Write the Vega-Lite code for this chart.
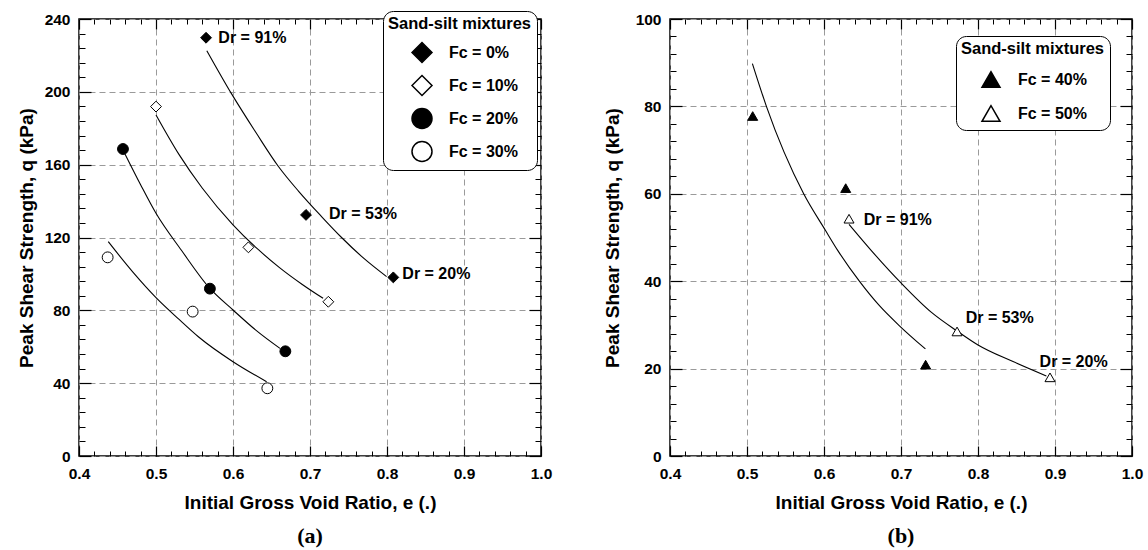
{
  "$schema": "https://vega.github.io/schema/vega-lite/v6.json",
  "background": "white",
  "padding": {"left": 16, "top": 9, "right": 5, "bottom": 5},
  "spacing": 49,
  "resolve": {"scale": {"fill": "independent", "shape": "independent"}, "legend": {"fill": "independent", "shape": "independent"}},
  "config": {
    "font": "Liberation Sans",
    "view": {"stroke": "black", "strokeWidth": 1.5},
    "axis": {
      "labelFont": "Liberation Sans", "labelFontWeight": "bold", "labelFontSize": 15.5, "labelColor": "black",
      "titleFont": "Liberation Sans", "titleFontWeight": "bold", "titleFontSize": 19, "titleColor": "black",
      "domain": false, "tickColor": "black", "tickWidth": 1.2,
      "gridColor": "#9a9a9a", "gridDash": [6, 4], "gridWidth": 1,
      "labelFlush": false, "labelOverlap": false
    },
    "legend": {
      "titleFont": "Liberation Sans", "titleFontWeight": "bold", "titleFontSize": 16.5, "titleColor": "black",
      "labelFont": "Liberation Sans", "labelFontWeight": "bold", "labelFontSize": 16, "labelColor": "black",
      "fillColor": "white", "strokeColor": "black", "cornerRadius": 10, "padding": 5
    }
  },
  "datasets": {
    "ptsA": [
      {"e": 0.565, "q": 229.7, "Fc": "Fc = 0%"},
      {"e": 0.6948, "q": 132.4, "Fc": "Fc = 0%"},
      {"e": 0.8082, "q": 98.1, "Fc": "Fc = 0%"},
      {"e": 0.5, "q": 191.9, "Fc": "Fc = 10%"},
      {"e": 0.62, "q": 114.6, "Fc": "Fc = 10%"},
      {"e": 0.7238, "q": 84.7, "Fc": "Fc = 10%"},
      {"e": 0.4571, "q": 168.6, "Fc": "Fc = 20%"},
      {"e": 0.57, "q": 91.9, "Fc": "Fc = 20%"},
      {"e": 0.668, "q": 57.5, "Fc": "Fc = 20%"},
      {"e": 0.4372, "q": 109.1, "Fc": "Fc = 30%"},
      {"e": 0.5476, "q": 79.3, "Fc": "Fc = 30%"},
      {"e": 0.6446, "q": 37.2, "Fc": "Fc = 30%"}
    ],
    "curvesA": [
      {"e": 0.566, "q": 222.6, "Fc": "0"},
      {"e": 0.598, "q": 199, "Fc": "0"},
      {"e": 0.63, "q": 177.5, "Fc": "0"},
      {"e": 0.659, "q": 159, "Fc": "0"},
      {"e": 0.685, "q": 145.5, "Fc": "0"},
      {"e": 0.715, "q": 131.5, "Fc": "0"},
      {"e": 0.741, "q": 120, "Fc": "0"},
      {"e": 0.77, "q": 108.5, "Fc": "0"},
      {"e": 0.7995, "q": 98.5, "Fc": "0"},
      {"e": 0.5, "q": 187.3, "Fc": "10"},
      {"e": 0.53, "q": 165.5, "Fc": "10"},
      {"e": 0.56, "q": 147.2, "Fc": "10"},
      {"e": 0.6, "q": 127, "Fc": "10"},
      {"e": 0.633, "q": 113.3, "Fc": "10"},
      {"e": 0.66, "q": 103.6, "Fc": "10"},
      {"e": 0.69, "q": 94.2, "Fc": "10"},
      {"e": 0.717, "q": 86.6, "Fc": "10"},
      {"e": 0.4597, "q": 165.9, "Fc": "20"},
      {"e": 0.48, "q": 149, "Fc": "20"},
      {"e": 0.5, "q": 133.3, "Fc": "20"},
      {"e": 0.533, "q": 113, "Fc": "20"},
      {"e": 0.57, "q": 92, "Fc": "20"},
      {"e": 0.6, "q": 80.2, "Fc": "20"},
      {"e": 0.63, "q": 69, "Fc": "20"},
      {"e": 0.661, "q": 59.1, "Fc": "20"},
      {"e": 0.438, "q": 117.7, "Fc": "30"},
      {"e": 0.47, "q": 101, "Fc": "30"},
      {"e": 0.5, "q": 87, "Fc": "30"},
      {"e": 0.53, "q": 75, "Fc": "30"},
      {"e": 0.555, "q": 65.5, "Fc": "30"},
      {"e": 0.6, "q": 51.8, "Fc": "30"},
      {"e": 0.6437, "q": 40.8, "Fc": "30"}
    ],
    "labA": [
      {"e": 0.581, "q": 229.7, "label": "Dr = 91%"},
      {"e": 0.7247, "q": 132.7, "label": "Dr = 53%"},
      {"e": 0.8199, "q": 100, "label": "Dr = 20%"}
    ],
    "ptsB": [
      {"e": 0.5074, "q": 77.8, "Fc": "Fc = 40%"},
      {"e": 0.6282, "q": 61.3, "Fc": "Fc = 40%"},
      {"e": 0.732, "q": 20.9, "Fc": "Fc = 40%"},
      {"e": 0.6325, "q": 54.3, "Fc": "Fc = 50%"},
      {"e": 0.7728, "q": 28.5, "Fc": "Fc = 50%"},
      {"e": 0.8935, "q": 18.0, "Fc": "Fc = 50%"}
    ],
    "curvesB": [
      {"e": 0.507, "q": 89.8, "Fc": "40"},
      {"e": 0.5252, "q": 80, "Fc": "40"},
      {"e": 0.5736, "q": 60, "Fc": "40"},
      {"e": 0.602, "q": 51.6, "Fc": "40"},
      {"e": 0.618, "q": 47, "Fc": "40"},
      {"e": 0.6464, "q": 39.9, "Fc": "40"},
      {"e": 0.672, "q": 34.4, "Fc": "40"},
      {"e": 0.698, "q": 29.8, "Fc": "40"},
      {"e": 0.7317, "q": 24.5, "Fc": "40"},
      {"e": 0.6325, "q": 53, "Fc": "50"},
      {"e": 0.6615, "q": 47, "Fc": "50"},
      {"e": 0.7, "q": 39.6, "Fc": "50"},
      {"e": 0.74, "q": 32.8, "Fc": "50"},
      {"e": 0.7728, "q": 28.6, "Fc": "50"},
      {"e": 0.8, "q": 25.4, "Fc": "50"},
      {"e": 0.8455, "q": 21.6, "Fc": "50"},
      {"e": 0.8888, "q": 18.3, "Fc": "50"}
    ],
    "labB": [
      {"e": 0.6516, "q": 53.9, "label": "Dr = 91%"},
      {"e": 0.784, "q": 31.6, "label": "Dr = 53%"},
      {"e": 0.88, "q": 21.6, "label": "Dr = 20%"}
    ]
  },
  "hconcat": [
    {
      "width": 462, "height": 437,
      "title": {"text": "(a)", "orient": "bottom", "font": "Liberation Serif", "fontSize": 22, "fontWeight": "bold", "color": "black", "offset": 13},
      "resolve": {"axis": {"x": "independent", "y": "independent"}},
      "layer": [
        {
          "data": {"name": "curvesA"},
          "mark": {"type": "line", "color": "black", "strokeWidth": 1.1, "interpolate": "monotone"},
          "encoding": {
            "x": {"field": "e", "type": "quantitative", "scale": {"domain": [0.4, 1.0], "nice": false, "zero": false},
              "axis": {"orient": "bottom", "title": "Initial Gross Void Ratio, e (.)", "values": [0.4,0.5,0.6,0.7,0.8,0.9,1.0], "format": ".1f",
                "tickSize": -10, "grid": true, "labelPadding": 20, "titlePadding": 12}},
            "y": {"field": "q", "type": "quantitative", "scale": {"domain": [0, 240], "nice": false},
              "axis": {"orient": "left", "title": "Peak Shear Strength, q (kPa)", "values": [0,40,80,120,160,200,240],
                "tickSize": -12, "grid": true, "labelPadding": 21, "titlePadding": 8}},
            "detail": {"field": "Fc"}
          }
        },
        {
          "data": {"name": "ptsA"},
          "mark": {"type": "point", "filled": true, "stroke": "black", "strokeWidth": 1, "opacity": 1, "size": 118},
          "encoding": {
            "x": {"field": "e", "type": "quantitative",
              "axis": {"orient": "top", "title": null, "labels": false, "grid": false, "values": [0.4,0.5,0.6,0.7,0.8,0.9,1.0], "tickSize": -10}},
            "y": {"field": "q", "type": "quantitative",
              "axis": {"orient": "right", "title": null, "labels": false, "grid": false, "values": [0,40,80,120,160,200,240], "tickSize": -12}},
            "shape": {"field": "Fc", "type": "nominal",
              "scale": {"domain": ["Fc = 0%", "Fc = 10%", "Fc = 20%", "Fc = 30%"], "range": ["diamond", "diamond", "circle", "circle"]},
              "legend": {"title": "Sand-silt mixtures", "orient": "none", "legendX": 304, "legendY": -8, "symbolSize": 400, "symbolOffset": 23, "labelOffset": 16, "rowPadding": 7, "titlePadding": 9,
                "encode": {"symbols": {"update": {"stroke": {"value": "black"}, "strokeWidth": {"value": 1}}}}}},
            "fill": {"field": "Fc", "type": "nominal",
              "scale": {"domain": ["Fc = 0%", "Fc = 10%", "Fc = 20%", "Fc = 30%"], "range": ["black", "white", "black", "white"]},
              "legend": {"title": "Sand-silt mixtures", "orient": "none", "legendX": 304, "legendY": -8, "symbolSize": 400, "symbolOffset": 23, "labelOffset": 16, "rowPadding": 7, "titlePadding": 9,
                "encode": {"symbols": {"update": {"stroke": {"value": "black"}, "strokeWidth": {"value": 1}}}}}}
          }
        },
        {
          "data": {"name": "labA"},
          "mark": {"type": "text", "align": "left", "baseline": "middle", "font": "Liberation Sans", "fontSize": 16, "fontWeight": "bold", "color": "black"},
          "encoding": {
            "x": {"field": "e", "type": "quantitative",
              "axis": {"orient": "bottom", "title": null, "labels": false, "grid": false, "tickSize": -5, "tickWidth": 1,
                "values": [0.42,0.44,0.46,0.48,0.52,0.54,0.56,0.58,0.62,0.64,0.66,0.68,0.72,0.74,0.76,0.78,0.82,0.84,0.86,0.88,0.92,0.94,0.96,0.98]}},
            "y": {"field": "q", "type": "quantitative",
              "axis": {"orient": "left", "title": null, "labels": false, "grid": false, "tickSize": -6, "tickWidth": 1,
                "values": [8,16,24,32,48,56,64,72,88,96,104,112,128,136,144,152,168,176,184,192,208,216,224,232]}},
            "text": {"field": "label"}
          }
        },
        {
          "data": {"name": "labA"},
          "mark": {"type": "point", "opacity": 0},
          "encoding": {
            "x": {"field": "e", "type": "quantitative",
              "axis": {"orient": "top", "title": null, "labels": false, "grid": false, "tickSize": -5, "tickWidth": 1,
                "values": [0.42,0.44,0.46,0.48,0.52,0.54,0.56,0.58,0.62,0.64,0.66,0.68,0.72,0.74,0.76,0.78,0.82,0.84,0.86,0.88,0.92,0.94,0.96,0.98]}},
            "y": {"field": "q", "type": "quantitative",
              "axis": {"orient": "right", "title": null, "labels": false, "grid": false, "tickSize": -6, "tickWidth": 1,
                "values": [8,16,24,32,48,56,64,72,88,96,104,112,128,136,144,152,168,176,184,192,208,216,224,232]}}
          }
        }
      ]
    },
    {
      "width": 462, "height": 437,
      "title": {"text": "(b)", "orient": "bottom", "font": "Liberation Serif", "fontSize": 22, "fontWeight": "bold", "color": "black", "offset": 13},
      "resolve": {"axis": {"x": "independent", "y": "independent"}},
      "layer": [
        {
          "data": {"name": "curvesB"},
          "mark": {"type": "line", "color": "black", "strokeWidth": 1.1, "interpolate": "monotone"},
          "encoding": {
            "x": {"field": "e", "type": "quantitative", "scale": {"domain": [0.4, 1.0], "nice": false, "zero": false},
              "axis": {"orient": "bottom", "title": "Initial Gross Void Ratio, e (.)", "values": [0.4,0.5,0.6,0.7,0.8,0.9,1.0], "format": ".1f",
                "tickSize": -10, "grid": true, "labelPadding": 20, "titlePadding": 12}},
            "y": {"field": "q", "type": "quantitative", "scale": {"domain": [0, 100], "nice": false},
              "axis": {"orient": "left", "title": "Peak Shear Strength, q (kPa)", "values": [0,20,40,60,80,100],
                "tickSize": -12, "grid": true, "labelPadding": 21, "titlePadding": 13}},
            "detail": {"field": "Fc"}
          }
        },
        {
          "data": {"name": "ptsB"},
          "mark": {"type": "point", "filled": true, "stroke": "black", "strokeWidth": 1, "opacity": 1, "size": 100},
          "encoding": {
            "x": {"field": "e", "type": "quantitative",
              "axis": {"orient": "top", "title": null, "labels": false, "grid": false, "values": [0.4,0.5,0.6,0.7,0.8,0.9,1.0], "tickSize": -10}},
            "y": {"field": "q", "type": "quantitative",
              "axis": {"orient": "right", "title": null, "labels": false, "grid": false, "values": [0,20,40,60,80,100], "tickSize": -12}},
            "shape": {"field": "Fc", "type": "nominal",
              "scale": {"domain": ["Fc = 40%", "Fc = 50%"], "range": ["triangle-up", "triangle-up"]},
              "legend": {"title": "Sand-silt mixtures", "orient": "none", "legendX": 286, "legendY": 17, "symbolSize": 324, "symbolOffset": 20, "labelOffset": 17, "rowPadding": 12, "titlePadding": 12,
                "encode": {"symbols": {"update": {"stroke": {"value": "black"}, "strokeWidth": {"value": 1}}}}}},
            "fill": {"field": "Fc", "type": "nominal",
              "scale": {"domain": ["Fc = 40%", "Fc = 50%"], "range": ["black", "white"]},
              "legend": {"title": "Sand-silt mixtures", "orient": "none", "legendX": 286, "legendY": 17, "symbolSize": 324, "symbolOffset": 20, "labelOffset": 17, "rowPadding": 12, "titlePadding": 12,
                "encode": {"symbols": {"update": {"stroke": {"value": "black"}, "strokeWidth": {"value": 1}}}}}}
          }
        },
        {
          "data": {"name": "labB"},
          "mark": {"type": "text", "align": "left", "baseline": "middle", "font": "Liberation Sans", "fontSize": 16, "fontWeight": "bold", "color": "black"},
          "encoding": {
            "x": {"field": "e", "type": "quantitative",
              "axis": {"orient": "bottom", "title": null, "labels": false, "grid": false, "tickSize": -5, "tickWidth": 1,
                "values": [0.42,0.44,0.46,0.48,0.52,0.54,0.56,0.58,0.62,0.64,0.66,0.68,0.72,0.74,0.76,0.78,0.82,0.84,0.86,0.88,0.92,0.94,0.96,0.98]}},
            "y": {"field": "q", "type": "quantitative",
              "axis": {"orient": "left", "title": null, "labels": false, "grid": false, "tickSize": -6, "tickWidth": 1,
                "values": [4,8,12,16,24,28,32,36,44,48,52,56,64,68,72,76,84,88,92,96]}},
            "text": {"field": "label"}
          }
        },
        {
          "data": {"name": "labB"},
          "mark": {"type": "point", "opacity": 0},
          "encoding": {
            "x": {"field": "e", "type": "quantitative",
              "axis": {"orient": "top", "title": null, "labels": false, "grid": false, "tickSize": -5, "tickWidth": 1,
                "values": [0.42,0.44,0.46,0.48,0.52,0.54,0.56,0.58,0.62,0.64,0.66,0.68,0.72,0.74,0.76,0.78,0.82,0.84,0.86,0.88,0.92,0.94,0.96,0.98]}},
            "y": {"field": "q", "type": "quantitative",
              "axis": {"orient": "right", "title": null, "labels": false, "grid": false, "tickSize": -6, "tickWidth": 1,
                "values": [4,8,12,16,24,28,32,36,44,48,52,56,64,68,72,76,84,88,92,96]}}
          }
        }
      ]
    }
  ]
}
